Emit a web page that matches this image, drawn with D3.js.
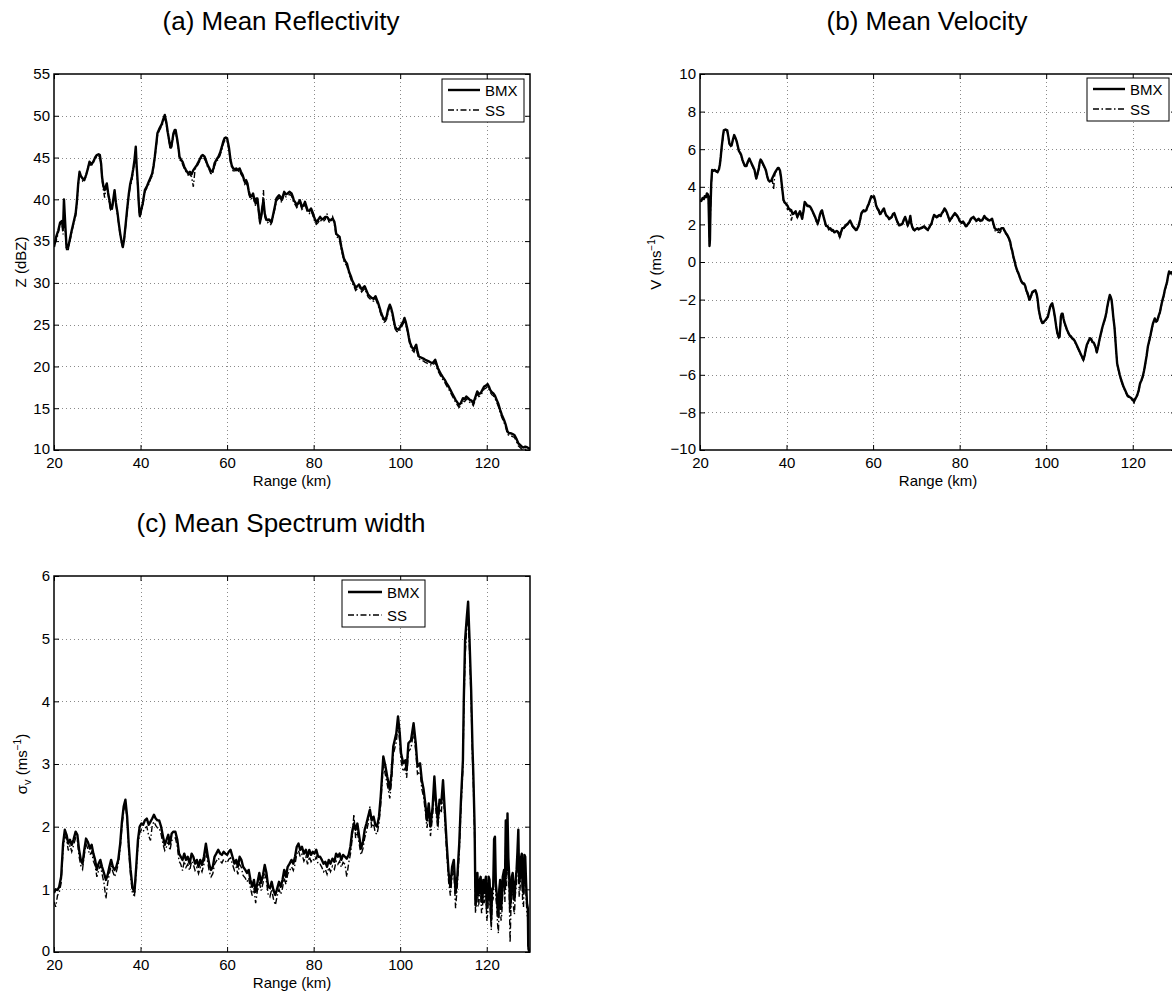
<!DOCTYPE html>
<html>
<head>
<meta charset="utf-8">
<script src="https://cdn.jsdelivr.net/npm/d3@7"></script>
<style>
  body { margin: 0; background: #fff; }
  svg { display: block; }
</style>
</head>
<body>
<svg id="fig" width="1172" height="994"></svg>
<script>
// ---- tick values ----
const rangeTicks = [20, 40, 60, 80, 100, 120];
const zTicks = [10, 15, 20, 25, 30, 35, 40, 45, 50, 55];
const vTicks = [-10, -8, -6, -4, -2, 0, 2, 4, 6, 8, 10];
const swTicks = [0, 1, 2, 3, 4, 5, 6];
const seriesNames = ["BMX", "SS"];

// ---- (a) mean reflectivity, dBZ ----
const rangeA = [
  20.0,20.5,21.0,21.4,21.8,22.1,22.3,22.6,22.9,23.3,
  23.7,24.1,24.6,25.0,25.3,25.6,25.9,26.2,26.6,27.0,
  27.4,27.8,28.2,28.6,29.1,29.5,29.9,30.3,30.6,30.9,
  31.1,31.4,31.7,32.0,32.2,32.5,32.8,33.1,33.4,33.7,
  34.0,34.3,34.7,35.0,35.3,35.6,35.9,36.2,36.5,36.9,
  37.3,37.6,38.0,38.3,38.6,38.9,39.1,39.4,39.6,39.8,
  40.1,40.5,41.0,41.5,41.9,42.3,42.7,43.0,43.3,43.6,
  43.9,44.3,44.6,44.9,45.2,45.6,46.0,46.3,46.6,46.9,
  47.1,47.4,47.6,47.9,48.1,48.5,48.8,49.0,49.4,49.7,
  50.1,50.5,51.0,51.4,51.8,52.2,52.6,53.0,53.4,53.8,
  54.1,54.4,54.8,55.1,55.5,55.9,56.2,56.6,56.9,57.1,
  57.6,58.0,58.4,58.8,59.1,59.4,59.7,60.0,60.4,60.8,
  61.1,61.4,61.8,62.1,62.5,62.9,63.2,63.6,63.9,64.1,
  64.4,64.7,65.0,65.4,65.7,66.0,66.3,66.6,66.8,67.0,
  67.3,67.6,67.9,68.1,68.4,68.7,69.0,69.3,69.7,70.1,
  70.4,70.7,71.1,71.4,71.7,72.0,72.3,72.6,72.9,73.2,
  73.6,74.0,74.4,74.9,75.2,75.4,75.8,76.1,76.4,76.8,
  77.0,77.3,77.7,78.0,78.3,78.6,79.0,79.4,79.8,80.1,
  80.3,80.6,81.0,81.5,81.9,82.3,82.7,83.1,83.5,83.9,
  84.4,84.8,85.0,85.2,85.6,86.0,86.2,86.4,86.7,87.0,
  87.3,87.7,88.0,88.2,88.6,88.9,89.3,89.7,90.1,90.5,
  90.8,91.1,91.4,91.8,92.2,92.6,93.0,93.4,93.9,94.3,
  94.6,94.9,95.2,95.5,95.9,96.3,96.6,96.9,97.2,97.6,
  97.9,98.2,98.5,98.8,99.2,99.6,100.0,100.5,100.8,101.0,
  101.3,101.7,102.0,102.3,102.7,103.2,103.5,103.7,104.0,104.3,
  104.7,105.1,105.5,105.8,106.2,106.6,107.0,107.5,107.8,108.1,
  108.4,108.7,109.1,109.5,109.9,110.3,110.7,111.2,111.6,112.0,
  112.4,112.8,113.2,113.6,114.0,114.5,114.9,115.3,115.7,116.1,
  116.5,116.9,117.3,117.8,118.2,118.6,119.0,119.4,119.8,120.2,
  120.5,120.8,121.2,121.5,121.9,122.3,122.7,123.1,123.5,124.0,
  124.4,124.8,125.2,125.6,126.0,126.4,126.9,127.3,127.7,128.1,
  128.5,128.9,129.4,129.8,130.0
];
const bmxA = [
  34.3,35.5,36.3,37.2,37.4,36.6,40.0,37.0,34.2,34.3,
  35.3,36.3,37.4,38.3,39.8,41.9,43.3,42.8,42.5,42.3,
  42.9,43.6,44.5,44.2,44.5,45.0,45.3,45.4,45.3,44.2,
  42.7,41.6,41.1,41.6,41.9,40.8,39.9,38.9,38.9,40.0,
  41.1,39.6,38.3,37.0,35.9,35.0,34.3,35.2,36.7,38.8,
  40.7,41.8,42.7,43.6,44.7,46.3,44.0,41.5,39.5,38.1,
  38.6,39.5,41.1,41.6,42.1,42.6,43.1,44.0,45.1,46.5,
  47.9,48.4,48.7,49.0,49.5,50.1,49.1,48.0,47.1,46.2,
  46.3,47.2,47.9,48.3,48.3,47.1,46.0,45.1,44.7,44.5,
  43.9,43.5,43.1,43.3,43.0,43.5,43.8,44.1,44.5,44.9,
  45.2,45.3,45.1,44.7,44.1,43.7,43.4,43.3,43.8,44.3,
  44.8,45.1,45.6,46.3,46.9,47.3,47.4,47.3,46.3,44.7,
  44.0,43.7,43.6,43.7,43.5,43.7,43.3,42.9,42.4,42.1,
  42.3,41.9,41.0,40.3,40.4,40.7,40.0,39.5,40.1,40.1,
  38.7,37.3,38.0,38.9,39.9,38.3,37.7,37.5,37.6,37.3,
  37.6,38.3,39.3,40.1,40.3,40.5,40.3,39.9,40.4,40.9,
  40.6,40.7,40.9,40.7,40.3,39.9,39.6,39.3,39.5,39.9,
  39.6,39.1,39.3,39.7,39.2,38.7,38.6,38.9,38.4,37.9,
  37.6,37.3,37.5,37.9,37.6,37.7,37.9,37.9,37.6,37.5,
  37.7,37.3,36.7,35.9,35.7,35.5,34.9,34.3,33.6,32.9,
  32.6,32.3,31.7,31.3,30.8,30.3,29.9,29.4,29.6,29.8,
  29.5,29.2,29.4,29.6,29.1,28.6,28.4,28.2,28.1,28.4,
  28.0,27.6,27.1,26.6,26.0,25.6,25.7,26.0,26.8,27.4,
  27.0,26.4,25.6,24.8,24.5,24.4,24.7,25.2,25.5,25.8,
  25.3,24.4,23.5,22.8,22.3,22.0,22.4,22.6,21.8,21.2,
  21.1,21.0,20.9,20.8,20.7,20.6,20.5,20.4,20.6,20.8,
  20.3,19.8,19.4,19.0,18.7,18.4,18.0,17.6,17.2,16.8,
  16.4,16.0,15.7,15.4,15.6,16.2,16.1,16.4,16.2,16.0,
  15.9,15.6,16.2,17.0,16.7,16.8,17.2,17.6,17.7,17.9,
  17.6,17.2,16.9,16.8,16.5,16.0,15.5,14.8,14.2,13.6,
  13.0,12.2,12.0,12.0,11.9,11.8,11.3,10.8,10.6,10.4,
  10.3,10.4,10.3,10.2,10.1
];
const ssA = [
  34.6,35.0,36.0,37.0,37.1,35.8,39.0,36.2,34.0,34.0,
  35.0,36.1,37.2,38.0,39.5,41.6,43.0,42.9,42.2,42.4,
  42.7,43.8,44.3,43.9,44.6,44.8,45.1,45.2,45.0,44.0,
  42.4,41.2,40.2,41.3,41.7,40.6,39.6,38.7,38.6,39.8,
  40.8,39.4,38.0,36.8,35.7,34.8,34.2,35.0,36.5,38.5,
  40.5,41.5,42.2,43.4,44.5,45.9,43.6,41.2,39.2,37.7,
  38.3,39.2,40.9,41.4,41.8,42.4,42.8,43.8,44.9,46.2,
  47.6,48.2,48.5,48.7,49.2,49.8,48.8,47.8,46.9,46.0,
  46.1,47.0,47.7,48.0,48.1,46.9,45.8,44.8,44.5,44.2,
  43.7,43.3,42.9,43.0,42.7,41.5,43.6,43.9,44.3,44.7,
  45.0,45.1,44.8,44.5,43.9,43.5,43.1,43.0,43.6,44.0,
  44.6,44.8,45.3,46.0,46.6,47.0,47.1,47.0,46.0,44.4,
  43.8,43.4,43.4,43.5,43.2,43.5,43.0,42.7,42.1,41.8,
  42.0,41.6,40.7,40.0,40.1,40.4,39.7,39.2,39.8,39.9,
  38.4,37.0,37.8,38.6,41.1,38.0,37.4,37.2,37.3,37.0,
  37.3,38.0,39.0,39.8,40.0,40.2,40.0,39.6,40.1,40.6,
  40.3,40.4,40.6,40.4,40.0,39.6,39.3,39.0,39.2,39.6,
  39.3,38.8,39.0,39.4,38.9,38.4,38.3,38.6,38.1,37.6,
  37.3,37.0,37.2,37.6,37.3,37.4,37.6,38.3,37.3,37.2,
  37.9,37.0,36.4,35.6,35.4,35.2,34.6,34.0,33.3,32.6,
  32.3,32.0,31.4,31.0,30.5,30.0,29.6,29.1,29.3,29.5,
  29.2,28.9,29.1,29.3,28.8,28.3,28.1,27.9,27.8,28.1,
  27.7,27.3,26.8,26.3,25.7,25.3,25.4,25.7,26.5,27.1,
  26.7,26.1,25.3,24.5,24.2,24.1,24.4,24.9,25.2,25.5,
  25.0,24.1,23.2,22.5,22.0,21.7,22.1,22.3,21.5,20.9,
  20.8,20.7,20.6,20.5,20.4,20.3,20.2,20.1,20.3,20.5,
  20.0,19.5,19.1,18.7,18.4,18.1,17.7,17.3,16.9,16.5,
  16.1,15.7,15.4,15.1,15.3,15.9,15.8,16.1,15.9,15.7,
  15.6,15.3,15.9,16.7,16.4,16.5,16.9,17.3,17.4,17.6,
  17.3,16.9,16.6,16.5,16.2,15.7,15.2,14.5,13.9,13.3,
  12.7,11.9,11.7,11.7,11.6,11.5,11.0,10.5,10.3,10.1,
  10.0,10.1,10.0,9.9,9.8
];

// ---- (b) mean velocity, m/s ----
const rangeB = [
  20.0,20.3,20.6,20.9,21.1,21.4,21.6,21.8,21.95,22.1,
  22.2,22.3,22.4,22.6,22.8,23.1,23.4,23.8,24.1,24.4,
  24.6,24.8,25.0,25.3,25.5,25.9,26.3,26.6,26.8,27.1,
  27.3,27.6,27.9,28.2,28.5,28.8,29.0,29.3,29.5,29.8,
  30.1,30.4,30.7,31.0,31.4,31.7,32.0,32.3,32.6,32.8,
  33.0,33.3,33.6,33.8,34.0,34.3,34.6,34.9,35.2,35.5,
  35.8,36.1,36.4,36.7,37.0,37.3,37.7,38.0,38.2,38.5,
  38.7,39.0,39.3,39.6,39.9,40.2,40.5,40.8,41.1,41.4,
  41.7,42.1,42.5,42.8,43.1,43.4,43.6,43.9,44.2,44.5,
  44.8,45.1,45.4,45.7,46.0,46.3,46.6,46.9,47.2,47.5,
  47.7,48.0,48.2,48.5,48.8,49.1,49.5,49.8,50.1,50.4,
  50.7,51.0,51.2,51.6,51.9,52.1,52.3,52.6,52.9,53.2,
  53.5,53.9,54.2,54.5,54.7,55.0,55.3,55.7,56.0,56.3,
  56.6,57.0,57.3,57.6,57.8,58.1,58.4,58.7,59.0,59.3,
  59.6,59.9,60.2,60.5,60.7,61.0,61.3,61.6,61.8,62.2,
  62.5,62.8,63.0,63.4,63.7,64.0,64.3,64.6,64.9,65.2,
  65.6,65.9,66.1,66.5,66.8,67.1,67.4,67.7,68.0,68.3,
  68.6,68.8,69.0,69.3,69.6,69.9,70.2,70.6,71.0,71.4,
  71.8,72.2,72.6,72.9,73.2,73.5,73.8,74.1,74.4,74.7,
  75.0,75.3,75.6,75.9,76.2,76.5,76.8,77.1,77.4,77.7,
  78.0,78.3,78.6,78.9,79.3,79.6,79.9,80.1,80.4,80.8,
  81.1,81.4,81.7,82.0,82.3,82.6,82.9,83.2,83.5,83.8,
  84.1,84.4,84.8,85.1,85.4,85.7,86.0,86.3,86.6,86.9,
  87.2,87.5,87.8,88.1,88.4,88.7,89.0,89.3,89.7,90.1,
  90.4,90.8,91.1,91.4,91.7,91.9,92.2,92.4,92.7,93.0,
  93.3,93.6,93.9,94.2,94.5,94.9,95.2,95.4,95.7,96.1,
  96.3,96.5,96.8,97.1,97.5,97.8,98.0,98.3,98.7,99.1,
  99.4,99.8,100.1,100.4,100.7,100.9,101.2,101.4,101.7,102.0,
  102.3,102.6,102.9,103.1,103.3,103.4,103.6,103.8,104.0,104.2,
  104.5,104.8,105.1,105.4,105.7,106.0,106.3,106.6,106.9,107.2,
  107.6,107.9,108.2,108.4,108.6,108.9,109.1,109.4,109.8,110.1,
  110.4,110.7,111.0,111.2,111.5,111.7,112.0,112.3,112.6,112.9,
  113.2,113.6,113.9,114.1,114.4,114.7,114.9,115.1,115.3,115.5,
  115.8,116.0,116.2,116.4,116.7,117.0,117.3,117.6,117.9,118.2,
  118.5,118.8,119.1,119.4,119.7,120.0,120.3,120.5,120.8,121.1,
  121.4,121.7,122.0,122.3,122.6,122.8,123.2,123.5,123.8,124.1,
  124.4,124.7,125.1,125.4,125.7,126.0,126.3,126.6,126.9,127.2,
  127.4,127.7,127.9,128.2,128.4,128.7,129.0,129.3,129.6,130.0
];
const bmxB = [
  3.30,3.25,3.40,3.35,3.50,3.45,3.65,3.60,3.50,2.00,
  0.85,1.20,2.60,4.20,4.90,4.85,4.90,4.80,4.80,4.95,
  5.20,5.60,6.10,6.70,7.00,7.05,7.00,6.60,6.30,6.20,
  6.20,6.50,6.75,6.60,6.40,6.10,5.90,5.80,5.70,5.45,
  5.25,5.10,5.10,5.30,5.50,5.35,5.20,5.05,4.90,4.65,
  4.45,4.70,5.00,5.30,5.45,5.35,5.20,5.05,4.90,4.60,
  4.35,4.30,4.30,4.45,4.60,4.75,4.90,5.00,5.00,4.85,
  4.55,3.90,3.30,3.15,3.10,3.00,2.85,2.80,2.75,2.55,
  2.60,2.70,2.40,2.55,2.70,2.50,2.30,2.70,3.20,3.10,
  3.00,3.00,2.95,2.85,2.70,2.55,2.40,2.20,2.05,2.30,
  2.50,2.70,2.75,2.45,2.20,1.95,1.90,1.75,1.80,1.70,
  1.70,1.60,1.60,1.65,1.60,1.50,1.35,1.60,1.80,1.80,
  1.90,2.00,2.05,2.15,2.20,2.05,1.90,1.80,1.70,1.75,
  1.90,2.25,2.60,2.70,2.75,2.70,2.75,2.95,3.10,3.30,
  3.50,3.45,3.50,3.25,3.00,2.85,2.75,2.55,2.60,2.75,
  2.85,2.60,2.50,2.40,2.30,2.35,2.40,2.55,2.60,2.40,
  2.15,2.00,1.95,2.00,2.05,2.25,2.40,2.20,1.95,2.10,
  2.45,2.10,1.90,1.75,1.70,1.75,1.80,1.75,1.80,1.85,
  1.90,1.80,1.70,1.80,1.95,2.05,2.30,2.50,2.45,2.40,
  2.45,2.50,2.45,2.60,2.70,2.85,2.75,2.60,2.40,2.20,
  2.30,2.40,2.50,2.60,2.50,2.40,2.25,2.15,2.10,2.15,
  2.05,1.90,1.95,2.05,2.15,2.30,2.35,2.40,2.30,2.20,
  2.25,2.30,2.20,2.20,2.30,2.45,2.35,2.30,2.25,2.20,
  2.25,2.30,2.05,1.80,1.75,1.70,1.75,1.70,1.80,1.80,
  1.65,1.50,1.40,1.25,1.05,0.80,0.55,0.30,0.05,-0.25,
  -0.45,-0.60,-0.80,-1.00,-1.10,-1.15,-1.30,-1.50,-1.65,-2.00,
  -1.90,-1.80,-1.60,-1.55,-1.50,-1.70,-1.95,-2.55,-3.00,-3.25,
  -3.20,-3.10,-3.00,-2.90,-2.60,-2.40,-2.25,-2.20,-2.50,-2.90,
  -3.40,-3.80,-4.00,-3.95,-3.30,-2.90,-2.75,-2.75,-3.00,-3.20,
  -3.40,-3.60,-3.75,-3.90,-3.95,-4.05,-4.10,-4.20,-4.35,-4.50,
  -4.70,-4.85,-5.00,-5.10,-5.20,-4.95,-4.70,-4.40,-4.20,-4.05,
  -4.10,-4.25,-4.30,-4.40,-4.60,-4.80,-4.50,-4.15,-3.85,-3.55,
  -3.30,-3.00,-2.70,-2.40,-2.05,-1.75,-1.85,-2.00,-2.40,-2.90,
  -3.50,-4.15,-4.80,-5.40,-5.70,-6.00,-6.25,-6.45,-6.65,-6.80,
  -6.95,-7.10,-7.15,-7.20,-7.25,-7.35,-7.40,-7.30,-7.20,-7.05,
  -6.80,-6.45,-6.30,-6.10,-5.80,-5.55,-5.00,-4.50,-4.20,-3.90,
  -3.55,-3.25,-3.00,-3.15,-3.10,-2.85,-2.65,-2.30,-2.00,-1.75,
  -1.50,-1.25,-1.10,-0.70,-0.50,-0.60,-0.55,-0.70,-0.80,-0.90
];
const ssB = [
  3.20,3.30,3.35,3.40,3.45,3.50,3.55,3.65,3.45,2.10,
  0.95,1.30,2.50,4.10,4.80,4.90,4.85,4.85,4.75,4.90,
  5.15,5.50,6.00,6.60,6.95,7.00,6.95,6.55,6.25,6.15,
  6.25,6.45,6.70,6.55,6.35,6.05,5.85,5.75,5.65,5.40,
  5.20,5.05,5.05,5.25,5.45,5.30,5.15,5.00,4.85,4.60,
  4.40,4.65,4.95,5.25,5.40,5.30,5.15,5.00,4.85,4.55,
  4.30,4.25,4.25,4.40,3.85,4.70,4.85,4.95,4.95,4.80,
  4.50,3.85,3.25,3.10,3.05,2.80,2.80,2.75,2.20,2.50,
  2.55,2.65,2.35,2.50,2.65,2.45,2.25,2.65,3.15,3.05,
  2.95,2.95,2.90,2.80,2.65,2.50,2.35,2.15,2.00,2.25,
  2.45,2.65,2.70,2.40,2.15,1.90,1.85,1.70,1.75,1.65,
  1.65,1.55,1.55,1.60,1.55,1.45,1.30,1.55,1.75,1.75,
  1.85,1.95,2.00,2.10,2.15,2.00,1.85,1.75,1.65,1.70,
  1.85,2.20,2.55,2.65,2.70,2.65,2.70,2.90,3.05,3.25,
  3.45,3.40,3.45,3.20,2.95,2.80,2.70,2.50,2.55,2.70,
  2.80,2.55,2.45,2.35,2.25,2.30,2.35,2.50,2.55,2.35,
  2.10,1.95,1.90,1.95,2.00,2.20,2.35,2.15,1.90,2.05,
  2.40,2.05,1.85,1.70,1.65,1.70,1.75,1.70,1.75,1.80,
  1.85,1.75,1.65,1.75,1.90,2.00,2.25,2.45,2.40,2.35,
  2.40,2.45,2.40,2.55,2.65,2.80,2.70,2.55,2.35,2.15,
  2.25,2.35,2.45,2.55,2.45,2.35,2.20,2.10,2.05,2.10,
  2.00,1.85,1.90,2.00,2.10,2.25,2.30,2.35,2.25,2.15,
  2.20,2.25,2.15,2.15,2.25,2.40,2.30,2.25,2.20,2.15,
  2.20,2.25,2.00,1.70,1.60,1.55,1.60,1.55,1.70,1.75,
  1.60,1.45,1.35,1.20,1.00,0.75,0.50,0.25,0.00,-0.30,
  -0.50,-0.65,-0.85,-1.05,-1.15,-1.20,-1.35,-1.55,-1.75,-2.10,
  -2.00,-1.85,-1.65,-1.60,-1.55,-1.75,-2.00,-2.60,-3.05,-3.30,
  -3.25,-3.15,-3.05,-2.95,-2.65,-2.45,-2.30,-2.25,-2.55,-2.95,
  -3.45,-3.85,-4.05,-4.00,-3.35,-2.95,-2.80,-2.80,-3.05,-3.25,
  -3.45,-3.65,-3.80,-3.95,-4.00,-4.10,-4.15,-4.25,-4.40,-4.55,
  -4.75,-4.90,-5.05,-5.15,-5.25,-5.00,-4.75,-4.45,-4.25,-4.10,
  -4.15,-4.30,-4.35,-4.45,-4.65,-4.85,-4.55,-4.20,-3.90,-3.60,
  -3.35,-3.05,-2.75,-2.45,-2.10,-1.80,-1.90,-2.05,-2.45,-2.95,
  -3.55,-4.20,-4.85,-5.45,-5.75,-6.05,-6.30,-6.50,-6.70,-6.85,
  -7.00,-7.15,-7.20,-7.25,-7.30,-7.45,-7.50,-7.35,-7.25,-7.10,
  -6.85,-6.50,-6.35,-6.15,-5.85,-5.60,-5.05,-4.55,-4.25,-3.95,
  -3.60,-3.30,-3.05,-3.20,-3.15,-2.90,-2.70,-2.35,-2.05,-1.80,
  -1.55,-1.30,-1.15,-0.75,-0.55,-0.65,-0.60,-0.75,-0.85,-0.95
];

// ---- (c) mean spectrum width, m/s ----
const rangeC = [
  20.0,20.4,20.8,21.2,21.65,22.1,22.5,22.9,23.3,23.7,
  24.1,24.5,25.0,25.4,25.8,26.2,26.6,27.0,27.4,27.8,
  28.3,28.7,29.1,29.5,29.9,30.3,30.7,31.1,31.55,32.0,
  32.4,32.8,33.2,33.6,34.0,34.4,34.85,35.3,35.7,36.1,
  36.5,36.9,37.3,37.7,38.15,38.6,39.0,39.4,39.8,40.2,
  40.6,41.0,41.45,41.9,42.3,42.7,43.1,43.5,43.9,44.3,
  44.75,45.2,45.6,46.0,46.4,46.8,47.2,47.6,48.05,48.5,
  48.9,49.3,49.7,50.1,50.5,50.9,51.35,51.8,52.2,52.6,
  53.0,53.4,53.8,54.2,54.65,55.1,55.5,55.9,56.3,56.7,
  57.1,57.5,57.95,58.4,58.8,59.2,59.6,60.0,60.4,60.8,
  61.25,61.7,62.1,62.5,62.9,63.3,63.7,64.2,64.6,65.0,
  65.4,65.8,66.2,66.6,67.0,67.45,67.85,68.3,68.7,69.1,
  69.5,69.9,70.3,70.7,71.15,71.6,72.0,72.4,72.8,73.2,
  73.6,74.0,74.45,74.9,75.3,75.7,76.1,76.5,76.9,77.3,
  77.75,78.2,78.6,79.0,79.4,79.8,80.2,80.6,81.05,81.5,
  81.9,82.3,82.7,83.1,83.5,83.9,84.35,84.8,85.2,85.6,
  86.0,86.4,86.8,87.25,87.65,88.1,88.5,88.9,89.3,89.7,
  90.1,90.55,90.95,91.4,91.8,92.2,92.6,93.0,93.4,93.85,
  94.25,94.65,95.1,95.5,95.9,96.1,96.6,97.0,97.6,98.0,
  98.4,99.1,99.5,99.9,100.2,100.7,101.2,101.5,101.9,102.5,
  103.1,103.6,104.0,104.6,105.0,105.4,105.8,106.2,106.6,107.0,
  107.5,107.9,108.3,108.7,109.1,109.5,109.9,110.3,110.75,111.2,
  111.6,112.0,112.4,112.8,113.2,113.65,114.05,114.5,114.7,115.0,
  115.4,115.7,116.0,116.4,116.7,116.9,117.2,117.4,117.5,117.7,
  117.85,118.0,118.2,118.4,118.6,118.8,119.0,119.2,119.4,119.6,
  119.8,120.0,120.25,120.45,120.65,120.85,121.05,121.25,121.5,121.7,
  121.9,122.1,122.3,122.5,122.7,122.9,123.1,123.3,123.5,123.7,
  124.0,124.2,124.4,124.6,124.8,125.0,125.2,125.4,125.6,125.8,
  126.0,126.2,126.4,126.6,126.9,127.1,127.3,127.5,127.7,127.9,
  128.1,128.3,128.5,128.7,128.9,129.1,129.3,129.5,129.6,129.8
];
const bmxC = [
  0.94,1.00,0.99,1.04,1.20,1.73,1.95,1.87,1.73,1.79,
  1.71,1.79,1.92,1.87,1.63,1.47,1.41,1.63,1.81,1.76,
  1.65,1.71,1.57,1.47,1.31,1.41,1.47,1.36,1.26,1.15,
  1.23,1.36,1.47,1.36,1.31,1.36,1.47,1.73,2.08,2.32,
  2.43,2.16,1.68,1.31,1.02,0.96,1.36,1.79,2.00,2.05,
  2.03,2.10,2.13,2.03,2.08,2.13,2.19,2.13,2.10,2.10,
  2.00,1.84,1.71,1.79,1.87,1.73,1.89,1.92,1.92,1.79,
  1.57,1.52,1.47,1.57,1.47,1.52,1.41,1.57,1.52,1.41,
  1.47,1.36,1.47,1.39,1.52,1.73,1.55,1.39,1.31,1.36,
  1.52,1.57,1.63,1.57,1.55,1.60,1.57,1.55,1.60,1.63,
  1.52,1.41,1.47,1.36,1.52,1.47,1.36,1.31,1.26,1.31,
  1.15,1.04,1.15,0.96,1.10,1.26,1.10,1.23,1.39,1.26,
  1.04,1.02,1.12,0.99,0.91,1.02,1.12,1.04,1.15,1.31,
  1.20,1.36,1.41,1.47,1.41,1.52,1.68,1.73,1.63,1.68,
  1.57,1.63,1.52,1.63,1.55,1.60,1.57,1.63,1.52,1.52,
  1.47,1.41,1.44,1.36,1.47,1.41,1.49,1.44,1.57,1.52,
  1.57,1.47,1.55,1.52,1.49,1.55,1.68,1.92,2.05,1.95,
  2.05,1.84,1.65,1.76,1.95,2.05,2.16,2.27,2.10,2.16,
  2.03,2.00,2.16,2.48,2.90,3.12,2.96,2.80,2.59,2.85,
  3.28,3.49,3.76,3.49,3.17,3.01,3.06,2.90,3.33,3.38,
  3.65,3.33,2.96,3.01,2.74,2.60,2.37,2.10,2.37,2.00,
  2.32,2.80,2.37,2.10,2.43,2.37,2.74,2.27,1.73,1.26,
  1.04,1.36,1.47,0.94,1.20,1.73,2.43,3.06,4.02,4.98,
  5.35,5.59,5.03,4.18,3.28,2.85,2.00,0.75,0.83,1.20,
  1.26,0.90,0.94,1.15,1.20,0.80,0.83,1.15,0.94,1.10,
  1.20,0.70,0.83,1.20,1.15,0.80,0.51,1.00,1.04,1.80,
  1.84,1.10,0.94,0.70,0.56,1.00,1.15,0.70,0.83,1.20,
  1.31,1.00,2.10,1.30,2.21,1.50,1.20,0.70,0.94,1.20,
  1.26,0.90,0.83,1.10,1.31,1.60,1.95,1.10,1.20,1.50,
  1.57,1.00,0.94,1.55,1.52,1.10,0.78,0.70,0.09,0.00
];
const ssC = [
  0.80,0.72,0.90,0.95,1.10,1.65,1.85,1.80,1.62,1.70,
  1.60,1.70,1.82,1.78,1.52,1.38,1.32,1.55,1.72,1.65,
  1.55,1.60,1.45,1.38,1.20,1.30,1.38,1.25,1.10,0.85,
  1.10,1.25,1.38,1.28,1.20,1.28,1.40,1.65,2.00,2.25,
  2.38,2.10,1.60,1.22,0.92,0.90,1.28,1.70,1.90,1.95,
  1.92,1.98,2.00,1.85,1.78,2.02,2.08,2.02,1.98,1.98,
  1.88,1.72,1.62,1.68,1.76,1.62,1.78,1.80,1.82,1.68,
  1.45,1.40,1.30,1.45,1.35,1.40,1.30,1.45,1.40,1.30,
  1.35,1.25,1.35,1.28,1.40,1.62,1.44,1.28,1.20,1.25,
  1.40,1.45,1.50,1.45,1.42,1.48,1.45,1.42,1.48,1.50,
  1.40,1.30,1.35,1.24,1.40,1.35,1.22,1.18,1.12,1.18,
  1.02,0.90,1.02,0.78,0.98,1.12,0.98,1.10,1.25,1.12,
  0.92,0.88,1.00,0.85,0.75,0.90,1.00,0.92,1.02,1.18,
  1.08,1.24,1.30,1.36,1.30,1.40,1.56,1.62,1.52,1.56,
  1.45,1.52,1.40,1.52,1.44,1.49,1.45,1.52,1.40,1.40,
  1.35,1.28,1.32,1.24,1.35,1.28,1.37,1.32,1.45,1.40,
  1.45,1.35,1.43,1.40,1.20,1.42,1.56,1.80,2.20,1.82,
  1.92,1.72,1.55,1.65,1.82,1.92,2.05,2.32,1.98,2.05,
  1.90,1.88,2.05,2.35,2.78,3.00,2.82,2.68,2.45,2.72,
  3.15,3.35,3.62,3.35,3.05,2.88,2.94,2.78,3.20,3.25,
  3.52,3.20,2.84,2.88,2.60,2.48,2.25,1.98,2.22,1.85,
  2.18,2.65,2.22,1.95,2.30,2.22,2.60,2.12,1.58,1.12,
  0.90,1.22,1.30,0.70,1.05,1.58,2.30,2.92,3.85,4.70,
  5.20,5.35,4.85,4.00,3.10,2.70,1.85,0.62,0.70,1.02,
  1.10,0.72,0.78,1.00,1.02,0.62,0.68,0.98,0.78,0.92,
  1.02,0.50,0.62,1.00,0.95,0.60,0.35,0.80,0.85,1.55,
  1.62,0.88,0.72,0.45,0.30,0.80,0.95,0.50,0.62,1.00,
  1.12,0.80,1.85,1.05,1.95,1.25,0.95,0.15,0.70,0.98,
  1.05,0.70,0.60,0.90,1.10,1.40,1.72,0.88,1.00,1.30,
  1.35,0.80,0.72,1.35,1.30,0.90,0.60,0.55,0.05,0.00
];

// ---- drawing ----
const FONT = "'Liberation Sans', Arial, Helvetica, sans-serif";
const svg = d3.select("#fig").style("font-family", FONT);
svg.append("rect").attr("width", 1172).attr("height", 994).attr("fill", "#fff");

const PW = 476, PH = 376;

function addText(sel, parts) {
  // parts: [text, dy, fontSize]
  parts.forEach(([t, dy, fs]) => {
    const ts = sel.append("tspan").text(t);
    if (dy) ts.attr("dy", dy);
    if (fs) ts.attr("font-size", fs);
  });
}

function drawPanel(p) {
  const g = svg.append("g").attr("transform", `translate(${p.left},${p.top})`);
  const x = d3.scaleLinear().domain([20, 130]).range([0, PW]);
  const y = d3.scaleLinear().domain(p.yDomain).range([PH, 0]);

  // dotted grid
  const grid = g.append("g").attr("stroke", "#8a8a8a").attr("stroke-width", 1)
    .attr("stroke-dasharray", "1,3");
  grid.selectAll(".gx").data(rangeTicks.filter(t => t > 20)).join("line")
    .attr("x1", d => Math.round(x(d)) + 0.5).attr("x2", d => Math.round(x(d)) + 0.5)
    .attr("y1", 0).attr("y2", PH);
  grid.selectAll(".gy").data(p.yTicks.slice(1, -1)).join("line")
    .attr("y1", d => Math.round(y(d)) + 0.5).attr("y2", d => Math.round(y(d)) + 0.5)
    .attr("x1", 0).attr("x2", PW);

  // data lines
  g.append("clipPath").attr("id", "clip" + p.key)
    .append("rect").attr("width", PW).attr("height", PH);
  const line = d3.line().x((d, i) => x(p.range[i])).y(d => y(d));
  const plot = g.append("g").attr("clip-path", `url(#clip${p.key})`);
  plot.append("path").datum(p.bmx).attr("d", line).attr("fill", "none")
    .attr("stroke", "#000").attr("stroke-width", 2.4).attr("stroke-linejoin", "round");
  plot.append("path").datum(p.ss).attr("d", line).attr("fill", "none")
    .attr("stroke", "#000").attr("stroke-width", 1.4)
    .attr("stroke-dasharray", "6,2.5,1.5,2.5");

  // axes with inward ticks on every side
  const fmt = d3.format("d");
  const styleAxis = sel => {
    sel.select(".domain").remove();
    sel.attr("font-size", 15).attr("font-family", FONT);
    sel.selectAll("line").attr("stroke", "#000");
    sel.selectAll("text").attr("fill", "#000");
  };
  g.append("g").attr("transform", `translate(0,${PH})`)
    .call(d3.axisBottom(x).tickValues(rangeTicks).tickSizeInner(-5).tickSizeOuter(0)
      .tickPadding(7.5).tickFormat(fmt)).call(styleAxis);
  const yAxisG = g.append("g")
    .call(d3.axisLeft(y).tickValues(p.yTicks).tickSizeInner(-5).tickSizeOuter(0)
      .tickPadding(4).tickFormat(fmt)).call(styleAxis);
  // the lowest value label sits a touch higher, clear of the range labels
  yAxisG.selectAll(".tick text").filter(d => d === p.yDomain[0]).attr("dy", "0.2em");
  g.append("g")
    .call(d3.axisTop(x).tickValues(rangeTicks).tickSizeInner(-5).tickSizeOuter(0)
      .tickFormat("")).call(styleAxis);
  g.append("g").attr("transform", `translate(${PW},0)`)
    .call(d3.axisRight(y).tickValues(p.yTicks).tickSizeInner(-5).tickSizeOuter(0)
      .tickFormat("")).call(styleAxis);

  g.append("rect").attr("width", PW).attr("height", PH).attr("fill", "none")
    .attr("stroke", "#000").attr("stroke-width", 1.5);

  // axis labels and caption
  g.append("text").attr("x", PW / 2).attr("y", PH + 36).attr("text-anchor", "middle")
    .attr("font-size", 15).text("Range (km)");
  const yl = g.append("text").attr("text-anchor", "middle").attr("font-size", 15)
    .attr("transform", `translate(${p.ylabelX - p.left},${PH / 2}) rotate(-90)`);
  addText(yl, p.ylabel);
  svg.append("text").attr("x", p.titleX).attr("y", p.top - 44)
    .attr("text-anchor", "middle").attr("font-size", 26).text(p.title);

  // legend
  const lg = g.append("g").attr("transform", `translate(${p.legend.x - p.left},${p.legend.y - p.top})`);
  lg.append("rect").attr("width", p.legend.w).attr("height", p.legend.h)
    .attr("fill", "#fff").attr("stroke", "#000").attr("stroke-width", 1);
  seriesNames.forEach((name, i) => {
    const ry = p.legend.rows[i];
    lg.append("line").attr("x1", 6).attr("x2", p.legend.sample).attr("y1", ry).attr("y2", ry)
      .attr("stroke", "#000").attr("stroke-width", i === 0 ? 2.4 : 1.4)
      .attr("stroke-dasharray", i === 0 ? null : "6,2.5,1.5,2.5");
    lg.append("text").attr("x", p.legend.sample + 5).attr("y", ry + 5.5)
      .attr("font-size", 15).text(name);
  });
}

drawPanel({
  key: "a", left: 54, top: 74, yDomain: [10, 55], yTicks: zTicks,
  range: rangeA, bmx: bmxA, ss: ssA,
  title: "(a) Mean Reflectivity", titleX: 281,
  ylabelX: 26, ylabel: [["Z (dBZ)"]],
  legend: { x: 442, y: 79, w: 82, h: 43, rows: [11, 31], sample: 38 }
});
drawPanel({
  key: "b", left: 700, top: 74, yDomain: [-10, 10], yTicks: vTicks,
  range: rangeB, bmx: bmxB, ss: ssB,
  title: "(b) Mean Velocity", titleX: 927,
  ylabelX: 661, ylabel: [["V (ms"], ["\u22121", -6, 10], [")", 6, 15]],
  legend: { x: 1087, y: 78, w: 82, h: 43, rows: [11, 31], sample: 38 }
});
drawPanel({
  key: "c", left: 54, top: 576, yDomain: [0, 6], yTicks: swTicks,
  range: rangeC, bmx: bmxC, ss: ssC,
  title: "(c) Mean Spectrum width", titleX: 281,
  ylabelX: 27, ylabel: [["\u03c3"], ["v", 4, 11], [" (ms", -4, 15], ["\u22121", -6, 10], [")", 6, 15]],
  legend: { x: 342, y: 580, w: 83, h: 47, rows: [12, 35], sample: 40 }
});
</script>
</body>
</html>
